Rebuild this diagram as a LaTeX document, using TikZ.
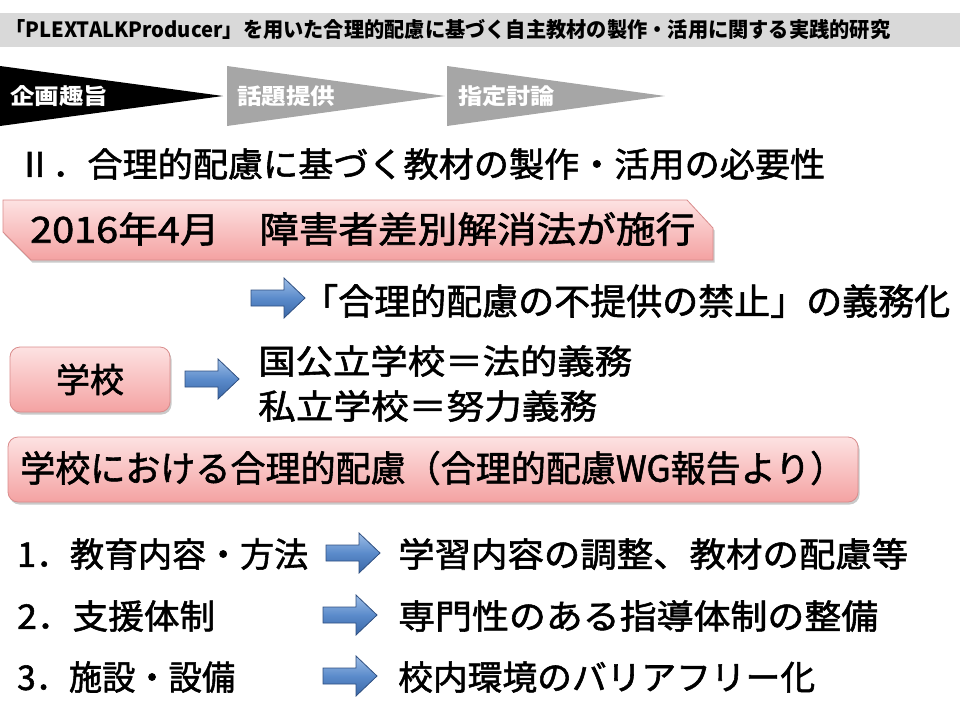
\documentclass[tikz,border=0pt]{standalone}
\usepackage{fontspec}
\setmainfont{Noto Sans CJK JP}
\newfontfamily\jpthick{Noto Sans CJK JP}[FakeBold=1.6]
\usetikzlibrary{shadows}
\definecolor{hdrgray}{HTML}{D9D9D9}
\definecolor{stepgray}{HTML}{A6A6A6}
\definecolor{pinktop}{HTML}{FDE2E2}
\definecolor{pinkbot}{HTML}{F4A2A2}
\definecolor{pinkline}{HTML}{D98C8C}
\definecolor{arrtop}{HTML}{9DBDE6}
\definecolor{arrmid}{HTML}{5B8BCB}
\definecolor{arrbot}{HTML}{3A67A6}
\definecolor{arrline}{HTML}{2F4F80}
\newcommand\fitw[2]{\resizebox{#1pt}{\height}{#2}}
\newcommand\blockarr[2]{%
  \path[barrow] (#1,#2-8) -- ++(33,0) -- ++(0,-12) -- ++(21,20) -- ++(-21,20)
    -- ++(0,-12) -- ++(-33,0) -- cycle;}
\begin{document}
\begin{tikzpicture}[x=1pt,y=-1pt,
  txt/.style={anchor=west,inner sep=0pt,font=\jpthick\fontsize{34}{34}\selectfont},
  pinkbox/.style={draw=pinkline,line width=0.8pt,top color=pinktop,bottom color=pinkbot,
    drop shadow={shadow xshift=1.5pt,shadow yshift=-2.5pt,opacity=0.35,fill=black!60}},
  barrow/.style={draw=arrline,line width=0.8pt,top color=arrtop,bottom color=arrbot,middle color=arrmid},
]
\useasboundingbox (0,0) rectangle (960,720);
% header
\fill[hdrgray] (0,13) rectangle (960,47);
\node[txt,font=\bfseries\fontsize{21}{21}\selectfont] (hdr) at (5,30)
  {\fitw{885}{「PLEXTALKProducer」を用いた合理的配慮に基づく自主教材の製作・活用に関する実践的研究}};
% steps
\fill[black] (0,66) -- (223,96) -- (0,126) -- cycle;
\fill[stepgray] (227,66) -- (445,96) -- (227,126) -- cycle;
\fill[stepgray] (447,66) -- (665,96) -- (447,126) -- cycle;
\node[txt,text=white,font=\bfseries\fontsize{22}{22}\selectfont] (s1) at (10,96) {\fitw{98}{企画趣旨}};
\node[txt,text=white,font=\bfseries\fontsize{22}{22}\selectfont] (s2) at (237,96) {\fitw{98}{話題提供}};
\node[txt,text=white,font=\bfseries\fontsize{22}{22}\selectfont] (s3) at (458,96) {\fitw{97}{指定討論}};
% title
\node[txt] (title) at (17,164) {\fitw{808}{Ⅱ．合理的配慮に基づく教材の製作・活用の必要性}};
% 2016 box
\path[pinkbox] (3,200) -- (687,200) -- (713,228) -- (713,260) -- (31,260) -- (3,232) -- cycle;
\node[txt,font=\jpthick\fontsize{36}{36}\selectfont] (law) at (30,229) {\fitw{665}{2016年4月　障害者差別解消法が施行}};
% obligation line
\blockarr{251}{298}
\node[txt,font=\jpthick\fontsize{36}{36}\selectfont] (duty) at (302,301) {\fitw{648}{「合理的配慮の不提供の禁止」の義務化}};
% school box
\node[pinkbox,rounded corners=10pt,minimum width=160pt,minimum height=65pt,inner sep=0pt,
  font=\jpthick\fontsize{34}{34}\selectfont] (school) at (90,379.5) {学校};
\blockarr{185}{379}
\node[txt] (pub) at (258,361) {\fitw{374}{国公立学校＝法的義務}};
\node[txt] (priv) at (258,406) {\fitw{339}{私立学校＝努力義務}};
% WG box
\node[pinkbox,rounded corners=10pt,minimum width=850pt,minimum height=65pt,inner sep=0pt] (wg) at (433,469.5) {};
\node[txt,font=\jpthick\fontsize{36}{36}\selectfont] (wgt) at (20,468) {\fitw{825}{学校における合理的配慮（合理的配慮WG報告より）}};
% list
\node[txt] (l1) at (17,554) {\fitw{291}{1．教育内容・方法}};
\blockarr{326}{553}
\node[txt] (r1) at (398,554) {\fitw{510}{学習内容の調整、教材の配慮等}};
\node[txt] (l2) at (17,616) {\fitw{198}{2．支援体制}};
\blockarr{323}{615}
\node[txt] (r2) at (398,616) {\fitw{480}{専門性のある指導体制の整備}};
\node[txt] (l3) at (17,677) {\fitw{218}{3．施設・設備}};
\blockarr{323}{676}
\node[txt] (r3) at (398,677) {\fitw{417}{校内環境のバリアフリー化}};
\end{tikzpicture}
\end{document}
